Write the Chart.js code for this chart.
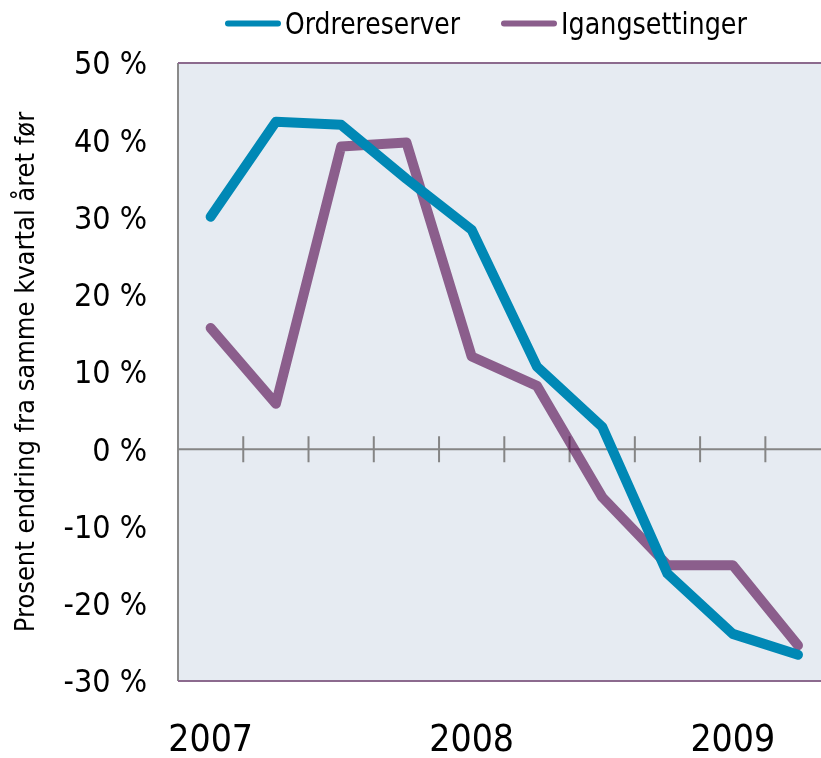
<!DOCTYPE html>
<html>
<head>
<meta charset="utf-8">
<script src="https://cdn.jsdelivr.net/npm/chart.js@4.4.1/dist/chart.umd.min.js"></script>
<style>
  html, body { margin: 0; padding: 0; background: #fff; overflow: hidden; }
  #wrap { width: 836px; height: 758px; }
</style>
</head>
<body>
<div id="wrap"><canvas id="chart" width="836" height="758"></canvas></div>
<script>
// kvartaler 2007K1 - 2009K2
const quarters = ['2007K1','2007K2','2007K3','2007K4','2008K1','2008K2','2008K3','2008K4','2009K1','2009K2']
const yearLabels = ['2007','','','','2008','','','','2009','']
const ordrereserver = [30.1, 42.4, 42.0, 35.0, 28.4, 10.7, 2.9, -16.1, -23.9, -26.6]
const igangsettinger = [15.7, 5.9, 39.2, 39.7, 12.0, 8.2, -6.2, -15.0, -15.0, -25.4]
const yTicks = [-30, -20, -10, 0, 10, 20, 30, 40, 50]

const condensed = "'DejaVu Sans Condensed', 'DejaVu Sans', sans-serif"

// bakgrunn, rammer, nullinje med tikk
const frame = {
    id: 'frame',
    beforeDatasetsDraw(chart) {
        const {ctx, chartArea: a, scales} = chart
        ctx.save()
        ctx.fillStyle = '#e6ebf2'
        ctx.fillRect(a.left, a.top, a.right - a.left, a.bottom - a.top)
        ctx.lineWidth = 2
        ctx.strokeStyle = '#8a8a8a'
        ctx.beginPath()
        ctx.moveTo(a.left, a.top)
        ctx.lineTo(a.left, a.bottom)
        ctx.stroke()
        ctx.strokeStyle = '#8c6a8e'
        ctx.beginPath()
        ctx.moveTo(a.left, a.top)
        ctx.lineTo(a.right, a.top)
        ctx.moveTo(a.left, a.bottom)
        ctx.lineTo(a.right, a.bottom)
        ctx.stroke()
        const y0 = scales.y.getPixelForValue(0)
        ctx.strokeStyle = '#858585'
        ctx.beginPath()
        ctx.moveTo(a.left, y0)
        ctx.lineTo(a.right, y0)
        for (let i = 0; i < quarters.length - 1; i++) {
            const x = (scales.x.getPixelForValue(i) + scales.x.getPixelForValue(i + 1)) / 2
            ctx.moveTo(x, y0 - 13)
            ctx.lineTo(x, y0 + 13)
        }
        ctx.stroke()
        ctx.restore()
    },
    afterDraw(chart) {
        // legende
        const {ctx} = chart
        const items = [{x: 225, w: 56, tw: 175}, {x: 501, w: 56, tw: 186}]
        ctx.save()
        ctx.font = '30px ' + condensed
        ctx.textBaseline = 'alphabetic'
        chart.data.datasets.forEach((ds, i) => {
            const it = items[i]
            ctx.strokeStyle = ds.legendColor
            ctx.lineWidth = 6
            ctx.lineCap = 'round'
            ctx.beginPath()
            ctx.moveTo(it.x + 3, 23.5)
            ctx.lineTo(it.x + it.w - 3, 23.5)
            ctx.stroke()
            ctx.fillStyle = '#000'
            ctx.fillText(ds.label, it.x + it.w + 4, 34, it.tw)
        })
        ctx.restore()
    }
}

new Chart(document.getElementById('chart'), {
    type: 'line',
    data: {
        labels: quarters,
        datasets: [
            {
                label: 'Ordrereserver',
                data: ordrereserver,
                borderColor: '#0088b5',
                legendColor: '#0088b5',
                borderWidth: 10,
                borderCapStyle: 'round',
                borderJoinStyle: 'round',
                pointRadius: 0,
                tension: 0
            },
            {
                label: 'Igangsettinger',
                data: igangsettinger,
                borderColor: 'rgba(78, 0, 72, 0.6)',
                legendColor: '#8b5e8c',
                borderWidth: 10,
                borderCapStyle: 'round',
                borderJoinStyle: 'round',
                pointRadius: 0,
                tension: 0
            }
        ]
    },
    options: {
        responsive: false,
        animation: false,
        layout: { padding: { top: 63, right: 0, left: 0, bottom: 0 } },
        plugins: {
            legend: { display: false },
            tooltip: { enabled: false }
        },
        scales: {
            x: {
                type: 'category',
                offset: true,
                grid: { display: false, drawTicks: false },
                border: { display: false },
                afterFit: s => { s.height = 77 },
                ticks: {
                    autoSkip: false,
                    maxRotation: 0,
                    padding: 38,
                    color: '#000',
                    font: { family: condensed, size: 37 },
                    callback: (v, i) => yearLabels[i]
                }
            },
            y: {
                min: -30,
                max: 50,
                afterFit: s => { s.width = 178 },
                afterBuildTicks: s => { s.ticks = yTicks.map(v => ({value: v})) },
                grid: { display: false, drawTicks: false },
                border: { display: false },
                ticks: {
                    padding: 31,
                    labelOffset: 3,
                    color: '#000',
                    font: { family: condensed, size: 32 },
                    callback: v => v + ' %'
                },
                title: {
                    display: true,
                    text: 'Prosent endring fra samme kvartal året før',
                    color: '#000',
                    font: { family: condensed, size: 27 },
                    padding: { top: 11, bottom: 0 }
                }
            }
        }
    },
    plugins: [frame]
})
</script>
</body>
</html>
